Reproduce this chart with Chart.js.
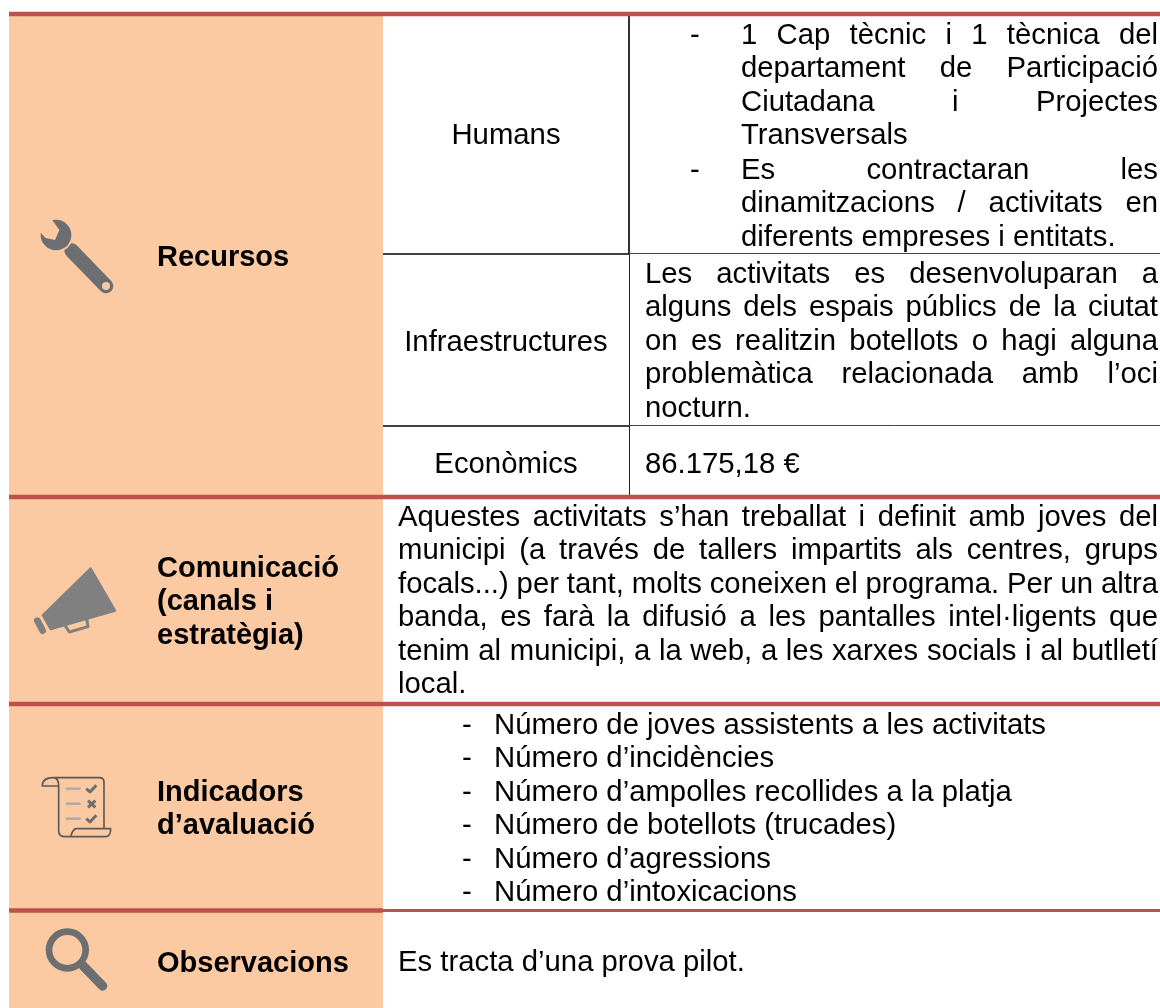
<!DOCTYPE html>
<html>
<head>
<meta charset="utf-8">
<title>Recursos</title>
<script src="https://cdn.jsdelivr.net/npm/chart.js@4/dist/chart.umd.min.js"></script>
<style>
  html, body { margin: 0; padding: 0; background: #fff; }
  canvas { display: block; }
</style>
</head>
<body>
<canvas id="myChart" width="1160" height="1008"></canvas>
<script>
// table text
const sectionTitles = [["Recursos"], ["Comunicació", "(canals i", "estratègia)"], ["Indicadors", "d’avaluació"], ["Observacions"]];
const resourceLabels = ["Humans", "Infraestructures", "Econòmics"];
const humansFirst = ["1 Cap tècnic i 1 tècnica del", "departament de Participació", "Ciutadana i Projectes", "Transversals"];
const humansSecond = ["Es contractaran les", "dinamitzacions / activitats en", "diferents empreses i entitats."];
const infraLines = ["Les activitats es desenvoluparan a", "alguns dels espais públics de la ciutat", "on es realitzin botellots o hagi alguna", "problemàtica relacionada amb l’oci", "nocturn."];
const economicLines = ["86.175,18 €"];
const commsLines = ["Aquestes activitats s’han treballat i definit amb joves del", "municipi (a través de tallers impartits als centres, grups", "focals...) per tant, molts coneixen el programa. Per un altra", "banda, es farà la difusió a les pantalles intel·ligents que", "tenim al municipi, a la web, a les xarxes socials i al butlletí", "local."];
const indicatorLines = ["Número de joves assistents a les activitats", "Número d’incidències", "Número d’ampolles recollides a la platja", "Número de botellots (trucades)", "Número d’agressions", "Número d’intoxicacions"];
const observationLines = ["Es tracta d’una prova pilot."];

// table grid (canvas units)
const columnEdges = [9, 383, 629, 1160];
const redRules = [14, 497, 704, 910.5];
const resourceRows = [254, 426];
const tableBottom = 1008;

const RED = "#c0504d";
const ORANGE = "#fbcaa2";
const FONT = '"Liberation Sans"';
const SIZE = 29.3;
const BOLD_SIZE = 29;
const STEP = 33.4;

function lineSet(points, color, width, order) {
  return {
    data: points, showLine: true, pointRadius: 0, borderColor: color,
    borderWidth: width, borderCapStyle: "butt", order: order, fill: false
  };
}

const datasets = [];
// orange first column
datasets.push({
  data: [{x: columnEdges[0], y: redRules[0]}, {x: columnEdges[1], y: redRules[0]}],
  showLine: true, pointRadius: 0, borderWidth: 0,
  backgroundColor: ORANGE, fill: {value: tableBottom}, order: 5
});
// red section rules, the last one gets thinner past the orange column
redRules.forEach((y, i) => {
  if (i === redRules.length - 1) {
    datasets.push(lineSet([{x: columnEdges[0], y: y}, {x: columnEdges[1], y: y}], RED, 4.5, 0));
    datasets.push(lineSet([{x: columnEdges[1], y: y}, {x: columnEdges[3], y: y}], RED, 3.2, 0));
  } else {
    datasets.push(lineSet([{x: columnEdges[0], y: y}, {x: columnEdges[3], y: y}], RED, 4.5, 0));
  }
});
// inner lines of the recursos block
datasets.push(lineSet([{x: columnEdges[2], y: redRules[0]}, {x: columnEdges[2], y: resourceRows[0]}], "#000", 1.6, 2));
datasets.push(lineSet([{x: columnEdges[2] + 0.5, y: resourceRows[0]}, {x: columnEdges[2] + 0.5, y: redRules[1]}], "#222", 1, 2));
resourceRows.forEach(y => {
  datasets.push(lineSet([{x: columnEdges[1], y: y}, {x: columnEdges[2], y: y}], "#000", 1.6, 1));
  datasets.push(lineSet([{x: columnEdges[2], y: y - 0.5}, {x: columnEdges[3], y: y - 0.5}], "#444", 1, 1));
});

function writeLines(ctx, sx, sy, lines, x, baseline, right) {
  // last line of a paragraph stays natural, the rest are justified up to "right"
  lines.forEach((txt, i) => {
    const px = sx.getPixelForValue(x);
    const py = sy.getPixelForValue(baseline + i * STEP);
    ctx.wordSpacing = "0px";
    if (right && i < lines.length - 1) {
      const gaps = txt.split(" ").length - 1;
      const extra = (sx.getPixelForValue(right) - px - ctx.measureText(txt).width) / gaps;
      ctx.wordSpacing = extra + "px";
    }
    ctx.fillText(txt, px, py);
  });
  ctx.wordSpacing = "0px";
}

function drawIcons(ctx, sx, sy) {
  const at = (x, y, fn) => {
    ctx.save();
    ctx.translate(sx.getPixelForValue(x), sy.getPixelForValue(y));
    ctx.scale(1 / 3, 1 / 3); // sketched at 3x
    ctx.lineCap = "round";
    ctx.lineJoin = "round";
    fn();
    ctx.restore();
  };
  const poly = pts => {
    ctx.beginPath();
    pts.forEach((p, i) => i ? ctx.lineTo(p[0], p[1]) : ctx.moveTo(p[0], p[1]));
  };

  // wrench
  at(0, 0, () => {
    ctx.strokeStyle = "#6d6e71";
    ctx.lineWidth = 44;
    poly([[215, 752], [318, 858]]);
    ctx.stroke();
    ctx.strokeStyle = ORANGE;
    ctx.lineWidth = 5;
    ctx.beginPath();
    ctx.arc(168, 705, 49, 0, Math.PI * 2);
    ctx.stroke();
    ctx.fillStyle = "#6d6e71";
    ctx.beginPath();
    ctx.arc(168, 705, 46, 0, Math.PI * 2);
    ctx.fill();
    ctx.fillStyle = ORANGE;
    poly([[155, 658], [178, 690], [165, 720], [137, 714], [120, 696], [100, 660], [140, 640]]);
    ctx.closePath();
    ctx.fill();
    ctx.beginPath();
    ctx.arc(318, 858, 12, 0, Math.PI * 2);
    ctx.fill();
  });

  // megaphone
  at(0, 480, () => {
    ctx.fillStyle = "#808080";
    ctx.strokeStyle = "#808080";
    ctx.lineWidth = 6;
    poly([[272, 265], [346, 392], [152, 448], [128, 406]]);
    ctx.closePath();
    ctx.fill();
    ctx.stroke();
    ctx.lineWidth = 20;
    poly([[112, 422], [128, 452]]);
    ctx.stroke();
    ctx.lineWidth = 9;
    poly([[195, 436], [208, 456], [264, 440], [260, 415]]);
    ctx.stroke();
  });

  // checklist scroll
  at(0, 700, () => {
    ctx.strokeStyle = "#5c5a58";
    ctx.lineWidth = 5;
    ctx.beginPath();
    ctx.moveTo(176, 258);
    ctx.lineTo(127, 258);
    ctx.quadraticCurveTo(127, 233, 160, 233);
    ctx.lineTo(298, 233);
    ctx.quadraticCurveTo(312, 233, 312, 247);
    ctx.lineTo(312, 386);
    ctx.moveTo(160, 233);
    ctx.quadraticCurveTo(176, 233, 176, 258);
    ctx.lineTo(176, 392);
    ctx.quadraticCurveTo(176, 410, 196, 410);
    ctx.lineTo(318, 410);
    ctx.quadraticCurveTo(332, 408, 332, 386);
    ctx.lineTo(228, 386);
    ctx.quadraticCurveTo(218, 388, 212, 410);
    ctx.stroke();
    ctx.strokeStyle = "#a7a9ac";
    ctx.lineWidth = 7;
    ctx.lineCap = "butt";
    [266, 311, 356].forEach(y => {
      poly([[198, y], [242, y]]);
      ctx.stroke();
    });
    ctx.strokeStyle = "#6d6e71";
    ctx.lineWidth = 9;
    [266, 356].forEach(y => {
      poly([[259, y], [270, y + 10], [289, y - 10]]);
      ctx.stroke();
    });
    poly([[264, 302], [286, 322]]);
    ctx.stroke();
    poly([[286, 302], [264, 322]]);
    ctx.stroke();
  });

  // magnifier
  at(0, 700, () => {
    ctx.strokeStyle = "#6d6e71";
    ctx.lineWidth = 20;
    ctx.beginPath();
    ctx.arc(202, 750, 55, 0, Math.PI * 2);
    ctx.stroke();
    ctx.lineWidth = 28;
    poly([[250, 798], [308, 858]]);
    ctx.stroke();
  });
}

const tableText = {
  id: "tableText",
  afterDraw(chart) {
    const ctx = chart.ctx, sx = chart.scales.x, sy = chart.scales.y;
    ctx.save();
    drawIcons(ctx, sx, sy);
    ctx.fillStyle = "#000";
    ctx.textBaseline = "alphabetic";
    ctx.textAlign = "left";

    ctx.font = "bold " + BOLD_SIZE + "px " + FONT;
    [266, 577, 801, 972].forEach((y, i) => writeLines(ctx, sx, sy, sectionTitles[i], 157, y));

    ctx.font = SIZE + "px " + FONT;
    ctx.textAlign = "center";
    [144, 351, 473].forEach((y, i) => writeLines(ctx, sx, sy, [resourceLabels[i]], 506, y));
    ctx.textAlign = "left";

    const right = 1158;
    writeLines(ctx, sx, sy, ["-"], 690, 44);
    writeLines(ctx, sx, sy, humansFirst, 741, 44, right);
    writeLines(ctx, sx, sy, ["-"], 690, 179);
    writeLines(ctx, sx, sy, humansSecond, 741, 179, right);
    writeLines(ctx, sx, sy, infraLines, 645, 283, right);
    writeLines(ctx, sx, sy, economicLines, 645, 473);
    writeLines(ctx, sx, sy, commsLines, 398, 526, right);
    indicatorLines.forEach((_, i) => writeLines(ctx, sx, sy, ["-"], 462, 734 + i * STEP));
    writeLines(ctx, sx, sy, indicatorLines, 494, 734);
    writeLines(ctx, sx, sy, observationLines, 398, 971);
    ctx.restore();
  }
};

const myChart = new Chart(document.getElementById("myChart"), {
  type: "scatter",
  data: {datasets: datasets},
  options: {
    responsive: false,
    animation: false,
    layout: {padding: 0},
    plugins: {legend: {display: false}, tooltip: {enabled: false}, title: {display: false}},
    scales: {
      x: {type: "linear", min: 0, max: 1160, display: false},
      y: {type: "linear", min: 0, max: 1008, reverse: true, display: false}
    }
  },
  plugins: [tableText]
});
</script>
</body>
</html>
